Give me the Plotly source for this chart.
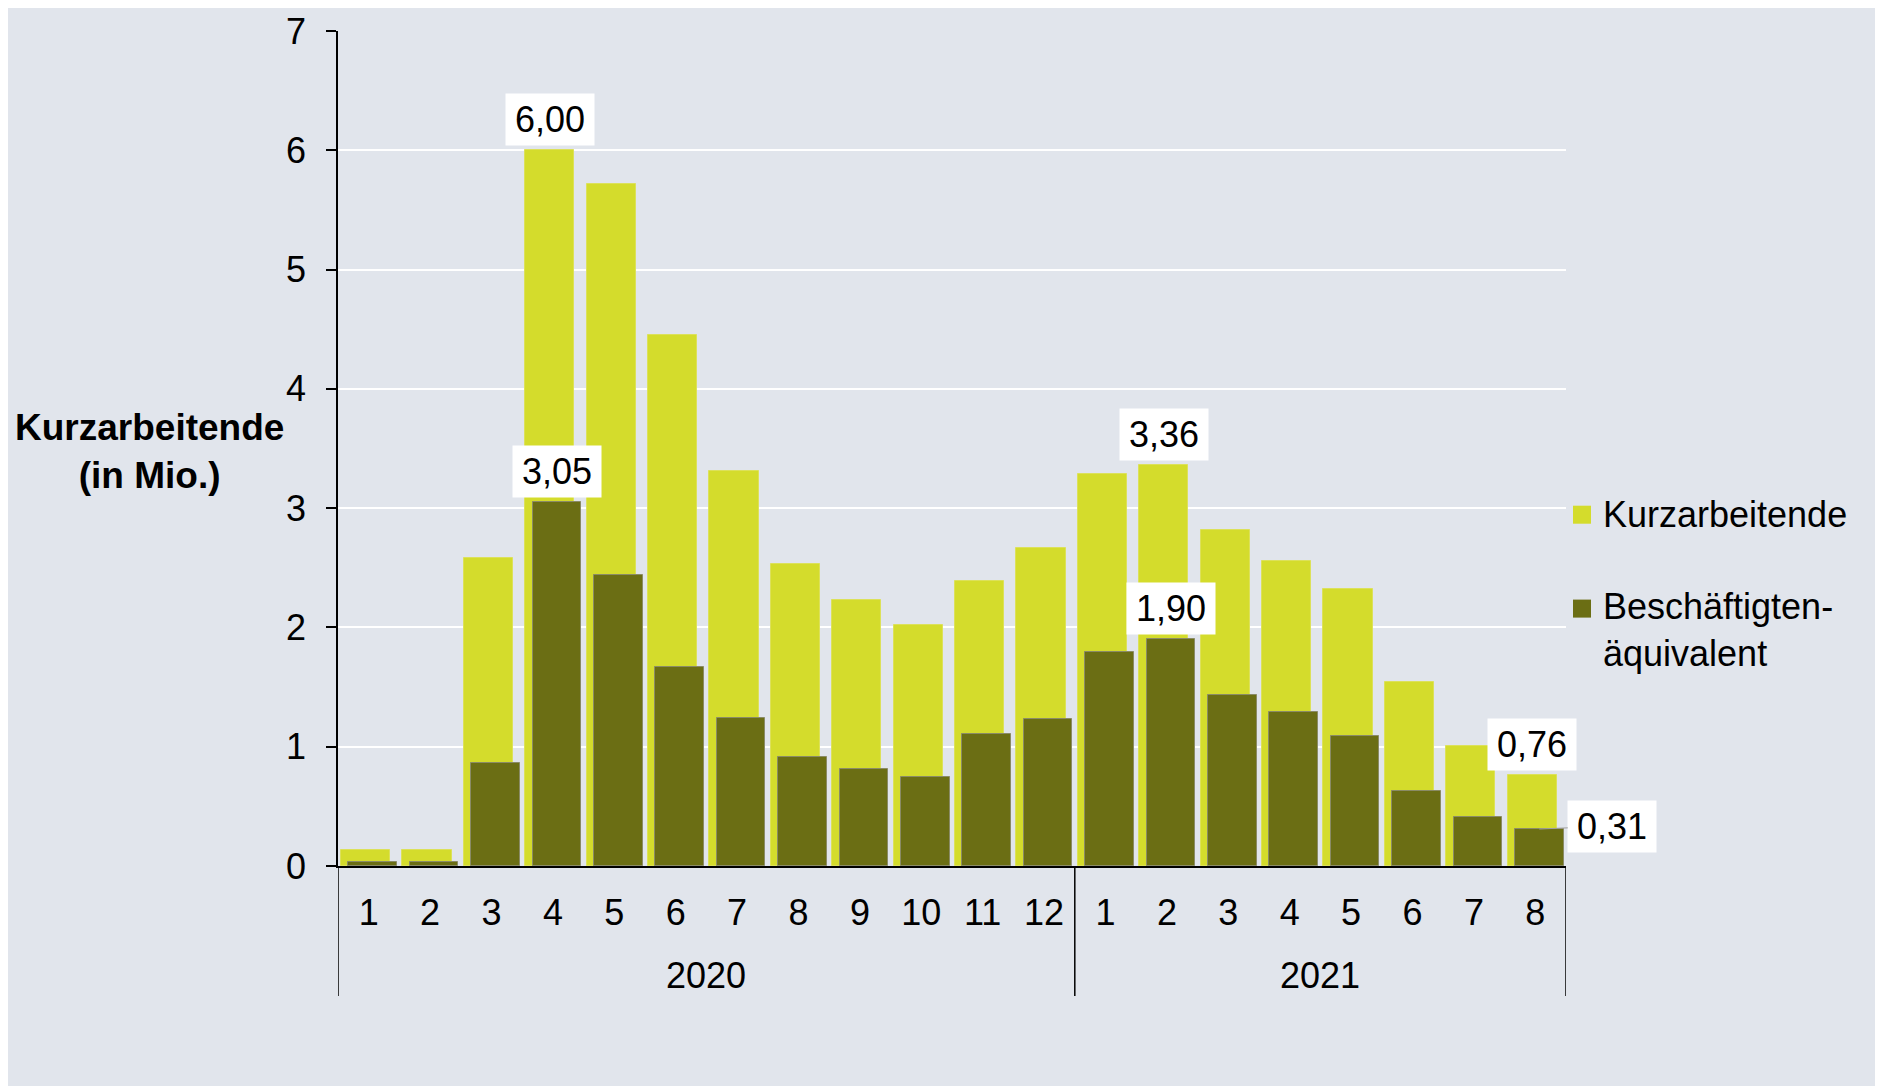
import plotly.graph_objects as go

# ---------------- data ----------------
years = ["2020"] * 12 + ["2021"] * 8
months = [1, 2, 3, 4, 5, 6, 7, 8, 9, 10, 11, 12, 1, 2, 3, 4, 5, 6, 7, 8]
kurzarbeitende = [0.13, 0.13, 2.58, 6.00, 5.72, 4.45, 3.31, 2.53, 2.23, 2.02, 2.39, 2.67,
                  3.29, 3.36, 2.82, 2.56, 2.32, 1.54, 1.01, 0.76]
beschaeftigtenaequivalent = [0.03, 0.03, 0.86, 3.05, 2.44, 1.67, 1.24, 0.91, 0.81, 0.75, 1.11, 1.23,
                             1.79, 1.90, 1.43, 1.29, 1.09, 0.63, 0.41, 0.31]
series_names = ["Kurzarbeitende", "Beschäftigten-<br>äquivalent"]
y_title = "<b>Kurzarbeitende<br>(in Mio.)</b>"
y_ticks = [0, 1, 2, 3, 4, 5, 6, 7]
# indices of points that carry a value label
labels_kurz = [3, 13, 19]
labels_besch = [3, 13, 19]

# ---------------- style ----------------
# reference-page pixel geometry (page body has an 8px margin)
PAGE_W, PAGE_H = 1883, 1086
BODY = 8
W, H = PAGE_W - BODY, PAGE_H - BODY
PLOT_L, PLOT_R, PLOT_T, PLOT_B = 338, 1566, 31, 866      # page coordinates
ML, MR, MT, MB = PLOT_L - BODY, PAGE_W - PLOT_R, PLOT_T - BODY, PAGE_H - PLOT_B
PW, PH = PLOT_R - PLOT_L, PLOT_B - PLOT_T
BG = "#E1E5EC"
LIGHT = "#D4DC2C"
DARK = "#6B6E14"
FONT = "Liberation Sans, Arial, sans-serif"
FS = 36


def px_x(p):
    return (p - PLOT_L) / PW


def px_y(p):
    return (PLOT_B - p) / PH


x = list(range(len(months)))
LIGHT_OFF, LIGHT_W = -0.45, 0.80
DARK_OFF, DARK_W = -0.33, 0.79

fig = go.Figure()
fig.add_trace(go.Bar(x=x, y=kurzarbeitende, name=series_names[0],
                     marker=dict(color=LIGHT, line=dict(color="#DCE15A", width=1)),
                     offset=LIGHT_OFF, width=LIGHT_W, showlegend=False))
fig.add_trace(go.Bar(x=x, y=beschaeftigtenaequivalent, name=series_names[1],
                     marker=dict(color=DARK, line=dict(color="#8A8B66", width=1)),
                     offset=DARK_OFF, width=DARK_W, showlegend=False))

annotations = []
shapes = []


def fmt(v):
    return f"{v:.2f}".replace(".", ",")


light_c = LIGHT_OFF + LIGHT_W / 2
dark_c = DARK_OFF + DARK_W / 2
box = dict(bgcolor="white", width=88, height=51, borderpad=0,
           font=dict(size=FS, color="black", family=FONT))
for i in labels_kurz:
    annotations.append(dict(x=i + light_c, y=kurzarbeitende[i], xref="x", yref="y",
                            text=fmt(kurzarbeitende[i]), showarrow=False,
                            yanchor="bottom", yshift=4, **box))
for i in labels_besch:
    if i == len(months) - 1:
        annotations.append(dict(x=i + dark_c, y=beschaeftigtenaequivalent[i], xref="x", yref="y",
                                text=fmt(beschaeftigtenaequivalent[i]), showarrow=True,
                                arrowhead=0, arrowwidth=1, arrowcolor="#A0A0A0",
                                ax=73, ay=-3, standoff=0, **box))
    else:
        annotations.append(dict(x=i + dark_c, y=beschaeftigtenaequivalent[i], xref="x", yref="y",
                                text=fmt(beschaeftigtenaequivalent[i]), showarrow=False,
                                yanchor="bottom", yshift=4, **box))

# year group labels and dividers
groups = []
for i, yv in enumerate(years):
    if not groups or groups[-1][0] != yv:
        groups.append([yv, i, i])
    else:
        groups[-1][2] = i
div_bottom = px_y(996)
bounds = [groups[0][1] - 0.5] + [g[2] + 0.5 for g in groups]
for b in bounds:
    shapes.append(dict(type="line", xref="x", yref="paper", x0=b, x1=b, y0=0, y1=div_bottom,
                       line=dict(color="black", width=1.5)))
for g in groups:
    annotations.append(dict(x=(g[1] + g[2]) / 2, y=px_y(975), xref="x", yref="paper",
                            text=g[0], showarrow=False, yanchor="middle",
                            font=dict(size=FS, color="black", family=FONT)))

# y-axis title
annotations.append(dict(x=px_x(150), y=px_y(451), xref="paper", yref="paper", text=y_title,
                        showarrow=False, xanchor="center", yanchor="middle", align="center",
                        font=dict(size=FS + 1, color="black", family=FONT)))

# manual legend
leg = [(series_names[0], LIGHT, 514.7, 514.7), (series_names[1], DARK, 608.6, 630)]
for name, col, sq_c, txt_c in leg:
    shapes.append(dict(type="rect", xref="paper", yref="paper",
                       x0=px_x(1573), x1=px_x(1591), y0=px_y(sq_c + 9), y1=px_y(sq_c - 9),
                       fillcolor=col, line=dict(width=0)))
    annotations.append(dict(x=px_x(1601), y=px_y(txt_c), xref="paper", yref="paper", text=name,
                            showarrow=False, xanchor="left", yanchor="middle", align="left",
                            font=dict(size=FS, color="black", family=FONT)))

fig.update_layout(
    width=W, height=H, autosize=False,
    margin=dict(l=ML, r=MR, t=MT, b=MB, pad=0, autoexpand=False),
    paper_bgcolor=BG, plot_bgcolor=BG,
    barmode="overlay", bargap=0,
    showlegend=False,
    font=dict(family=FONT, size=FS, color="black"),
    annotations=annotations, shapes=shapes,
    xaxis=dict(range=[-0.5, len(months) - 0.5], tickvals=x, ticktext=[str(m) for m in months],
               showgrid=False, zeroline=False, showline=True, linecolor="black", linewidth=1.5,
               ticks="", ticklabelstandoff=14, tickfont=dict(size=FS, color="black", family=FONT),
               automargin=False, fixedrange=True),
    yaxis=dict(range=[0, 7], tickvals=y_ticks, showgrid=True, gridcolor="white", gridwidth=2,
               zeroline=False, showline=True, linecolor="black", linewidth=1.5,
               ticks="outside", ticklen=10, tickwidth=1.5, tickcolor="black",
               ticklabelstandoff=13, tickfont=dict(size=FS, color="black", family=FONT),
               automargin=False, fixedrange=True),
)

fig.write_html("out.html")
